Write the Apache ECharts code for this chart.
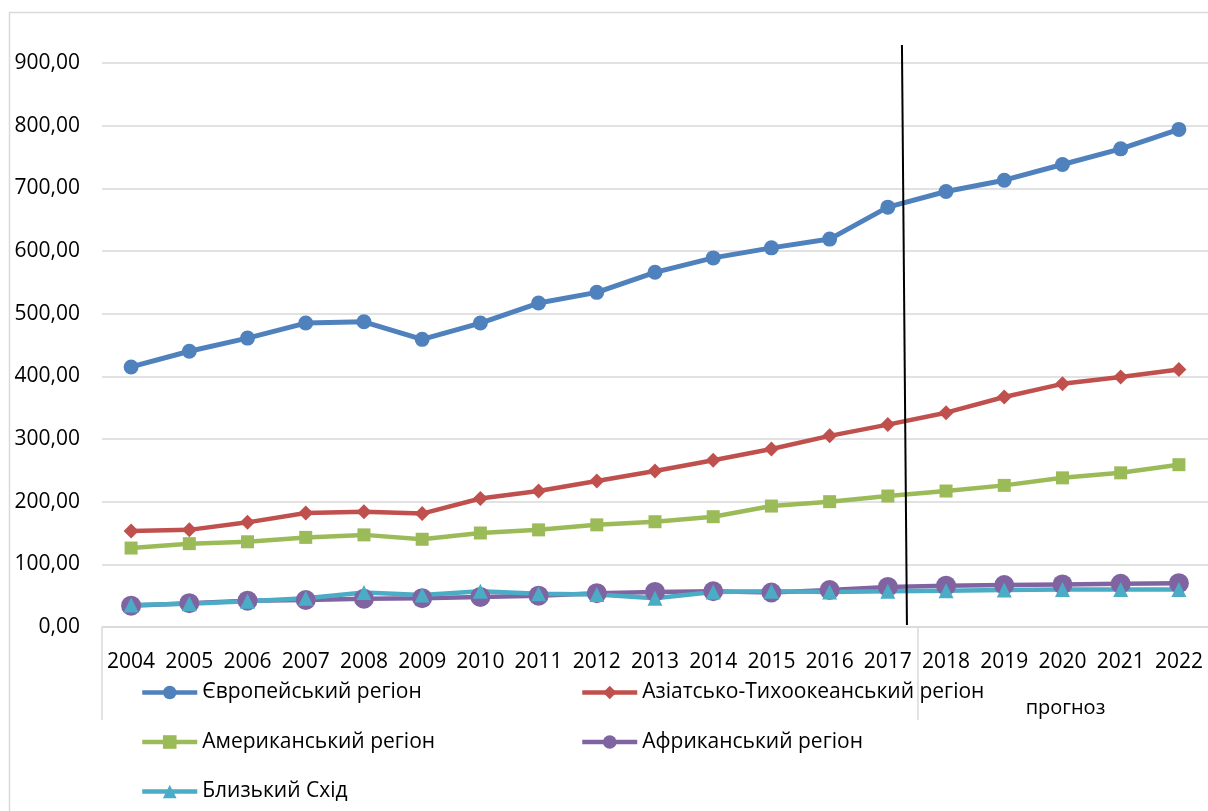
<!DOCTYPE html>
<html>
<head>
<meta charset="utf-8">
<script src="https://cdn.jsdelivr.net/npm/echarts@6/dist/echarts.min.js"></script>
<style>
  html, body { margin: 0; padding: 0; background: #fff; }
  #chart { width: 1208px; height: 811px; }
</style>
</head>
<body>
<div id="chart"></div>
<script>
// Роки
const years = ['2004','2005','2006','2007','2008','2009','2010','2011','2012','2013',
               '2014','2015','2016','2017','2018','2019','2020','2021','2022'];

// Значення за регіонами
const europe  = [415, 440, 461, 485, 487, 459, 485, 517, 534, 566, 589, 605, 619, 670, 695, 713, 738, 763, 794];
const asiaPac = [153, 155, 167, 182, 184, 181, 205, 217, 233, 249, 266, 284, 305, 323, 342, 367, 388, 399, 411];
const america = [126, 133, 136, 143, 147, 140, 150, 155, 163, 168, 176, 193, 200, 209, 217, 226, 238, 246, 259];
const africa  = [34, 38, 42, 43, 45, 46, 48, 50, 54, 56, 57, 55, 59, 64, 66, 67, 68, 69, 70];
const mideast = [35, 37, 41, 46, 55, 51, 57, 53, 52, 46, 56, 57, 56, 57, 58, 59, 60, 60, 60];

// Підпис прогнозного періоду
const forecastLabel = 'прогноз';
const forecastStart = '2018';

const FONT = '"Open Sans", "Noto Sans", sans-serif';

const chart = echarts.init(document.getElementById('chart'));

function lineSeries(name, data, color, symbol, size, width) {
  return {
    name: name,
    type: 'line',
    data: data,
    symbol: symbol,
    symbolSize: size,
    showAllSymbol: true,
    lineStyle: { color: color, width: width },
    itemStyle: { color: color },
    emphasis: { disabled: true },
    animation: false
  };
}

const legendCommon = {
  orient: 'vertical',
  itemWidth: 55,
  itemHeight: 17,
  itemGap: 28.5,
  lineStyle: { width: 4.5 },
  textStyle: { fontFamily: FONT, fontSize: 21, color: '#000' },
  selectedMode: false
};

chart.setOption({
  backgroundColor: '#fff',
  animation: false,
  grid: { left: 102, right: -2, top: 63, bottom: 184, containLabel: false },
  xAxis: {
    type: 'category',
    data: years,
    boundaryGap: true,
    axisLine: { show: true, lineStyle: { color: '#d9d9d9', width: 1.5 } },
    axisTick: { show: false },
    axisLabel: { fontFamily: FONT, fontSize: 21, color: '#000', margin: 25, interval: 0 },
    splitLine: { show: false }
  },
  yAxis: {
    type: 'value',
    min: 0,
    max: 900,
    interval: 100,
    axisLine: { show: false },
    axisTick: { show: false },
    axisLabel: {
      fontFamily: FONT, fontSize: 21, color: '#000', margin: 22,
      formatter: v => v.toFixed(2).replace('.', ',')
    },
    splitLine: { lineStyle: { color: '#d9d9d9', width: 1.5 } }
  },
  legend: [
    Object.assign({}, legendCommon, {
      left: 135, top: 677,
      data: ['Європейський регіон', 'Американський регіон', 'Близький Схід']
    }),
    Object.assign({}, legendCommon, {
      left: 575, top: 677,
      data: ['Азіатсько-Тихоокеанський регіон', 'Африканський регіон']
    })
  ],
  series: [
    lineSeries('Європейський регіон', europe, '#4F81BD', 'circle', 15, 5),
    lineSeries('Азіатсько-Тихоокеанський регіон', asiaPac, '#C0504D', 'diamond', 15, 4.5),
    lineSeries('Американський регіон', america, '#9BBB59', 'rect', 13, 4.5),
    lineSeries('Африканський регіон', africa, '#8064A2', 'circle', 20, 4.5),
    lineSeries('Близький Схід', mideast, '#4BACC6', 'triangle', 15, 4.5)
  ]
});

// Рамка, роздільники груп під віссю, лінія початку прогнозу
const x0 = chart.convertToPixel({ xAxisIndex: 0 }, years[0]);
const x1 = chart.convertToPixel({ xAxisIndex: 0 }, years[1]);
const step = x1 - x0;
const xSplit = chart.convertToPixel({ xAxisIndex: 0 }, forecastStart) - step / 2;
const xLeft = x0 - step / 2;
const xLast = chart.convertToPixel({ xAxisIndex: 0 }, years[years.length - 1]);
const yZero = chart.convertToPixel({ yAxisIndex: 0 }, 0);
const yTop = chart.convertToPixel({ yAxisIndex: 0 }, 900);

chart.setOption({
  graphic: [
    { type: 'rect', shape: { x: 9.5, y: 12.5, width: 1400, height: 1000 },
      style: { fill: null, stroke: '#d9d9d9', lineWidth: 1.5 }, silent: true },
    { type: 'line', shape: { x1: xLeft, y1: yZero, x2: xLeft, y2: yZero + 93 },
      style: { stroke: '#d9d9d9', lineWidth: 1.5 }, silent: true },
    { type: 'line', shape: { x1: xSplit + 1, y1: yZero, x2: xSplit + 1, y2: yZero + 93 },
      style: { stroke: '#d9d9d9', lineWidth: 1.5 }, silent: true },
    { type: 'text', x: (xSplit + xLast + step / 2) / 2 + 3, y: 708,
      style: { text: forecastLabel, font: '20px ' + FONT, fill: '#000',
               textAlign: 'center', textVerticalAlign: 'middle' }, silent: true },
    { type: 'line', shape: { x1: xSplit - 15, y1: yTop - 18, x2: xSplit - 10, y2: yZero - 2 },
      style: { stroke: '#000', lineWidth: 2 }, silent: true, z: 100 }
  ]
});
</script>
</body>
</html>
